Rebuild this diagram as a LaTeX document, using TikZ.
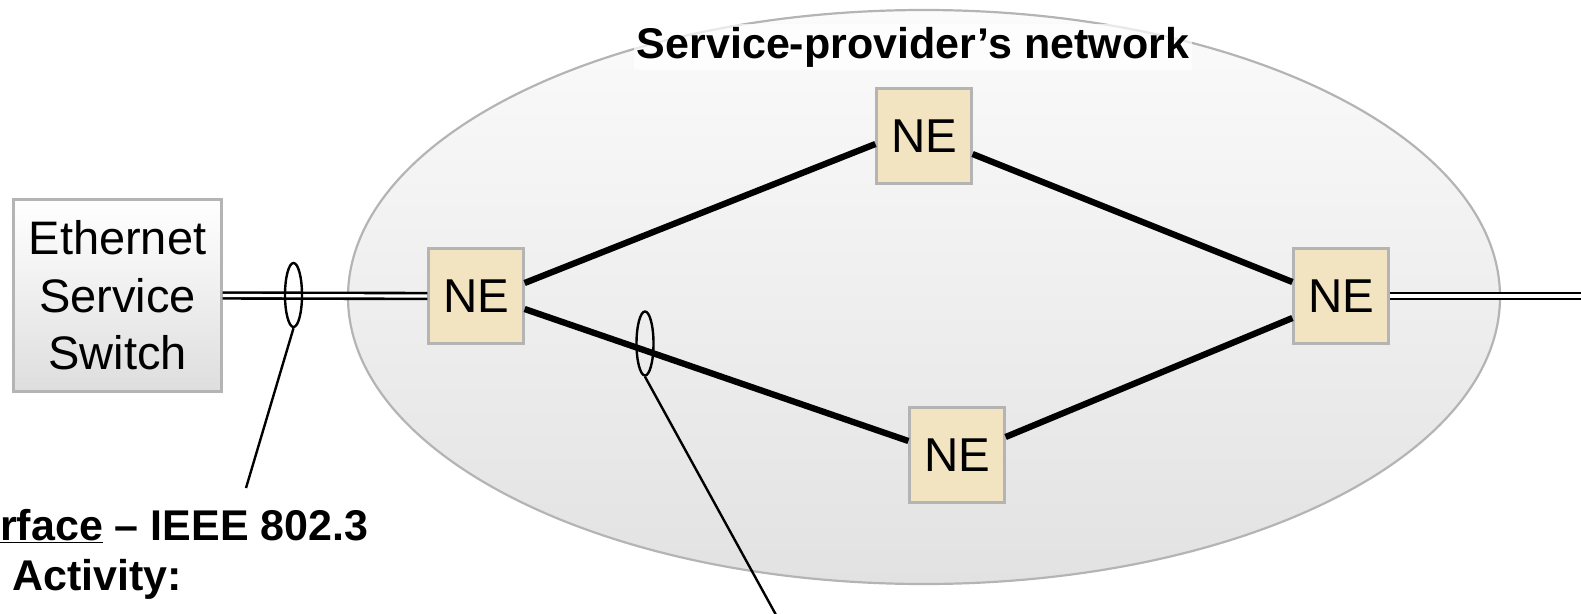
\documentclass[tikz,border=0pt]{standalone}
\usepackage{fontspec}
\setmainfont{Liberation Sans}
\usetikzlibrary{calc,shapes.geometric}
\definecolor{boxborder}{HTML}{B4B4B4}
\definecolor{nefill}{HTML}{F2E4C0}
\definecolor{cloudtop}{HTML}{FBFBFB}
\definecolor{cloudbot}{HTML}{E2E2E2}
\begin{document}
\begin{tikzpicture}[x=1pt,y=-1pt,
  nebox/.style={draw=boxborder, line width=2.2pt, fill=nefill, minimum width=95pt, minimum height=95pt, inner sep=0pt, font=\fontsize{47.5}{50}\selectfont},
  swbox/.style={draw=boxborder, line width=2.2pt, top color=white, bottom color=black!13, minimum width=208pt, minimum height=192pt, inner sep=0pt, align=center, font=\fontsize{47}{57.5}\selectfont},
  cloud/.style={draw=boxborder, line width=2.2pt, top color=cloudtop, bottom color=cloudbot},
  link/.style={line width=6.3pt, draw=black},
  dlink/.style={draw=black, line width=2.6pt, double=white, double distance=3.2pt},
  tag/.style={ellipse, draw=black, line width=2.4pt, minimum width=17pt, minimum height=64pt, inner sep=0pt},
  callout/.style={line width=2.4pt, draw=black},
  boldtxt/.style={font=\bfseries\fontsize{43}{50}\selectfont},
]
\clip (0,0) rectangle (1581,613);
% cloud
\draw[cloud] (924,297) ellipse [x radius=576, y radius=287];
\node[boldtxt, fill=white, fill opacity=0.7, text opacity=1, inner sep=3pt, anchor=base] (title) at (913,58) {Service-provider’s network};
% nodes
\node[swbox] (sw) at (117.5,295.5) {Ethernet\\Service\\Switch};
\node[nebox] (ne1) at (476,296) {NE};
\node[nebox] (ne2) at (924,136) {NE};
\node[nebox] (ne3) at (1341,296) {NE};
\node[nebox] (ne4) at (957,455) {NE};
\coordinate (rightend) at (1600,296);
% links
\draw[link] ($(ne1.east)+(0,-13)$) -- ($(ne2.west)+(0,8)$);
\draw[link] ($(ne2.east)+(0,18)$) -- ($(ne3.west)+(0,-14)$);
\draw[link] ($(ne1.east)+(0,13)$) -- ($(ne4.west)+(0,-14)$);
\draw[link] ($(ne4.east)+(0,-18)$) -- ($(ne3.west)+(0,22)$);
\draw[dlink] (sw.east) -- (ne1.west);
\draw[dlink] (ne3.east) -- (rightend);
% tags and callouts
\node[tag] (t1) at (293.5,295) {};
\node[tag] (t2) at (645,343.5) {};
\coordinate (c1) at (246,488);
\coordinate (c2) at (781,624);
\draw[callout] (t1.south) -- (c1);
\draw[callout] (t2.south) -- (c2);
% labels
\node[boldtxt, anchor=base west, inner sep=0pt] (lbl1) at (0,540) {\underline{rface} – IEEE 802.3};
\node[boldtxt, anchor=base west, inner sep=0pt] (lbl2) at (12,590) {Activity:};
\end{tikzpicture}
\end{document}
